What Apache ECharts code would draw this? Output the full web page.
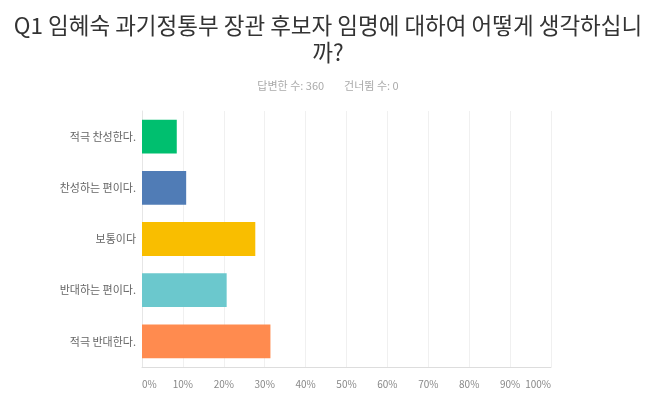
<!DOCTYPE html>
<html>
<head>
<meta charset="utf-8">
<script src="https://cdn.jsdelivr.net/npm/echarts@6/dist/echarts.min.js"></script>
<style>
  html, body { margin: 0; padding: 0; background: #fff; }
  #main { width: 656px; height: 406px; }
</style>
</head>
<body>
<div id="main"></div>
<script>
// answers, top to bottom
const categories = ['적극 찬성한다.', '찬성하는 편이다.', '보통이다', '반대하는 편이다.', '적극 반대한다.'];
// percent of respondents
const values = [8.5, 10.8, 27.7, 20.7, 31.4];
const barColors = ['#00bf6f', '#507cb6', '#f9be00', '#6bc8cd', '#ff8b4f'];
const answered = 360;
const skipped = 0;

const FONT = '"Noto Sans CJK KR", "Noto Sans", sans-serif';

const myChart = echarts.init(document.getElementById('main'));

myChart.setOption({
  backgroundColor: '#fff',
  textStyle: { fontFamily: FONT },
  title: [{
    text: 'Q1 임혜숙 과기정통부 장관 후보자 임명에 대하여 어떻게 생각하십니\n까?',
    left: 'center',
    top: 7,
    textStyle: {
      fontFamily: FONT,
      fontSize: 22.5,
      fontWeight: 'normal',
      color: '#333',
      lineHeight: 27
    }
  }, {
    text: '{a|답변한 수: ' + answered + '}{b|건너뜀 수: ' + skipped + '}',
    left: 'center',
    top: 75,
    textStyle: {
      fontWeight: 'normal',
      rich: {
        a: { fontFamily: FONT, fontSize: 11, fontWeight: 'normal', color: '#aaa' },
        b: { fontFamily: FONT, fontSize: 11, fontWeight: 'normal', color: '#aaa', padding: [0, 0, 0, 20] }
      }
    }
  }],
  grid: { left: 142, right: 105, top: 111, bottom: 39, containLabel: false },
  xAxis: {
    type: 'value',
    min: 0,
    max: 100,
    interval: 10,
    axisLine: { show: true, lineStyle: { color: '#ddd' } },
    axisTick: { show: false },
    splitLine: { show: true, lineStyle: { color: '#f0f0f0' } },
    axisLabel: {
      formatter: '{value}%',
      color: '#888',
      fontSize: 10,
      margin: 12,
      alignMinLabel: 'left',
      alignMaxLabel: 'right',
      fontFamily: FONT
    }
  },
  yAxis: {
    type: 'category',
    inverse: true,
    data: categories,
    axisLine: { show: true, lineStyle: { color: '#e6e6e6' } },
    axisTick: { show: false },
    axisLabel: { color: '#666', fontSize: 11, margin: 6, fontFamily: FONT }
  },
  series: [{
    type: 'bar',
    barCategoryGap: '34%',
    data: values.map((v, i) => ({ value: v, itemStyle: { color: barColors[i] } })),
    silent: true
  }]
});
</script>
</body>
</html>
